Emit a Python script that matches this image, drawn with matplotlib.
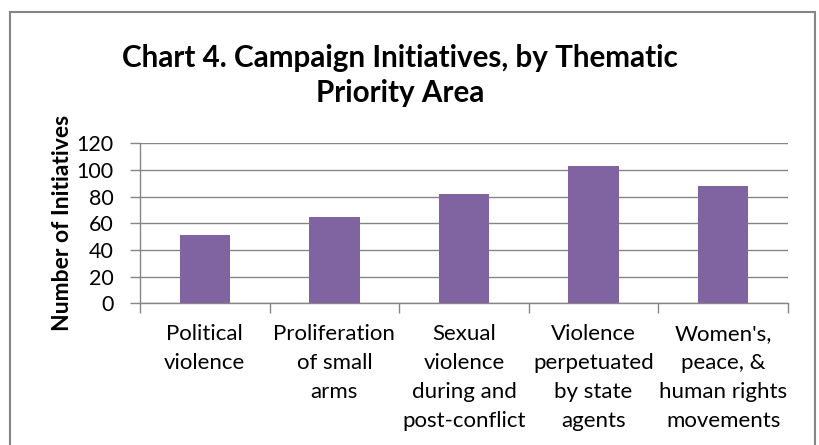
import matplotlib.pyplot as plt
from matplotlib.patches import Rectangle

# data
categories = ['Political\nviolence',
              'Proliferation\nof small\narms',
              'Sexual\nviolence\nduring and\npost-conflict',
              'Violence\nperpetuated\nby state\nagents',
              "Women's,\npeace, &\nhuman rights\nmovements"]
initiatives = [51, 65, 82, 103, 88]
y_ticks = [0, 20, 40, 60, 80, 100, 120]

BAR_COLOR = '#8064A2'
GRID_COLOR = '#868686'

plt.rcParams['font.family'] = ['Lato', 'DejaVu Sans']

fig = plt.figure(figsize=(8.2, 4.45), dpi=100)
ax = fig.add_axes([140 / 820, 1 - 303.3 / 445, 648 / 820, 160 / 445])

x = list(range(len(categories)))
ax.bar(x, initiatives, width=0.39, color=BAR_COLOR, zorder=3)

ax.set_xlim(-0.5, len(categories) - 0.5)
ax.set_ylim(0, 120)
ax.set_yticks(y_ticks)
ax.yaxis.grid(True, color=GRID_COLOR, linewidth=1)
ax.set_axisbelow(True)

# category boundaries carry the tick marks, labels sit in between
ax.set_xticks([i - 0.5 for i in range(len(categories) + 1)])
ax.set_xticklabels([])
ax.set_xticks(x, minor=True)
ax.set_xticklabels(categories, minor=True, fontsize=16, linespacing=1.55)
ax.tick_params(axis='x', which='major', length=7, width=1, color=GRID_COLOR, direction='out')
ax.tick_params(axis='x', which='minor', length=0, pad=15)
ax.tick_params(axis='y', length=7, width=1, color=GRID_COLOR, labelsize=15.5, pad=12)

for s in ['top', 'right']:
    ax.spines[s].set_visible(False)
for s in ['left', 'bottom']:
    ax.spines[s].set_color(GRID_COLOR)
    ax.spines[s].set_linewidth(1)

ax.set_ylabel('Number of Initiatives', fontsize=16.5, fontweight='bold')
ax.yaxis.set_label_coords(-0.103, 0.5)

fig.text(400 / 820, 1 - 44 / 445, 'Chart 4. Campaign Initiatives, by Thematic\nPriority Area',
         ha='center', va='top', fontsize=21.3, fontweight='bold', linespacing=1.3)

# outer frame of the chart
fig.patches.append(Rectangle((10 / 820, -0.05), 805 / 820, 1.05 - 12 / 445,
                             transform=fig.transFigure, fill=False,
                             edgecolor=GRID_COLOR, linewidth=1.5))

fig.savefig('out.png', dpi=100)
